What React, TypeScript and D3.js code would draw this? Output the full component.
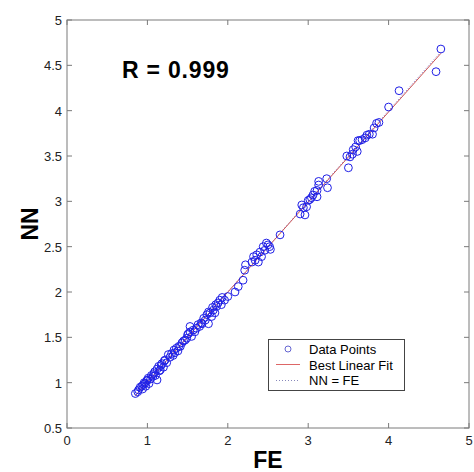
import React from "react";
import * as d3 from "d3";

const feValues = [
  0.85, 0.88, 0.89, 0.91, 0.93, 0.94, 0.95, 0.96, 0.97, 0.98, 0.99, 1.0, 1.01, 1.02, 1.04, 1.05, 1.07, 1.08, 1.09, 1.1,
  1.12, 1.12, 1.14, 1.15, 1.16, 1.17, 1.18, 1.2, 1.21, 1.22, 1.24, 1.26, 1.28, 1.3, 1.32, 1.33, 1.34, 1.36, 1.38, 1.39,
  1.41, 1.43, 1.45, 1.47, 1.49, 1.5, 1.51, 1.53, 1.53, 1.55, 1.57, 1.59, 1.61, 1.63, 1.65, 1.67, 1.68, 1.7, 1.72, 1.74,
  1.76, 1.76, 1.78, 1.8, 1.81, 1.82, 1.84, 1.85, 1.86, 1.88, 1.9, 1.92, 1.93, 1.96, 2.0, 2.09, 2.13, 2.19, 2.21, 2.22,
  2.3, 2.32, 2.34, 2.36, 2.38, 2.4, 2.42, 2.44, 2.46, 2.48, 2.5, 2.52, 2.53, 2.65, 2.9, 2.92, 2.94, 2.96, 2.98, 3.0,
  3.02, 3.04, 3.06, 3.08, 3.11, 3.11, 3.13, 3.13, 3.23, 3.24, 3.48, 3.5, 3.52, 3.55, 3.56, 3.59, 3.61, 3.62, 3.64, 3.67,
  3.71, 3.73, 3.76, 3.8, 3.82, 3.85, 3.88, 4.0, 4.13, 4.59, 4.65,
];
const nnValues = [
  0.88, 0.9, 0.92, 0.95, 0.96, 0.93, 0.98, 1.0, 0.99, 0.96, 1.02, 1.03, 1.05, 0.99, 1.04, 1.08, 1.07, 1.1, 1.12, 1.08,
  1.03, 1.15, 1.18, 1.13, 1.14, 1.19, 1.21, 1.17, 1.24, 1.25, 1.22, 1.31, 1.28, 1.32, 1.3, 1.36, 1.33, 1.38, 1.35, 1.4,
  1.4, 1.44, 1.46, 1.47, 1.49, 1.53, 1.54, 1.56, 1.62, 1.51, 1.58, 1.56, 1.6, 1.64, 1.62, 1.66, 1.65, 1.71, 1.69, 1.75,
  1.65, 1.78, 1.77, 1.73, 1.83, 1.8, 1.77, 1.86, 1.84, 1.88, 1.91, 1.86, 1.94, 1.91, 1.95, 2.0, 2.06, 2.13, 2.24, 2.3,
  2.33, 2.39, 2.35, 2.41, 2.33, 2.44, 2.39, 2.5, 2.46, 2.54, 2.52, 2.5, 2.47, 2.63, 2.86, 2.96, 2.93, 2.85, 2.94, 3.01,
  3.02, 3.04, 3.07, 3.11, 3.05, 3.12, 3.18, 3.22, 3.25, 3.15, 3.5, 3.37, 3.49, 3.52, 3.57, 3.6, 3.55, 3.67, 3.67, 3.68,
  3.7, 3.73, 3.74, 3.74, 3.81, 3.86, 3.87, 4.04, 4.22, 4.43, 4.68,
];
const xTicks = [0, 1, 2, 3, 4, 5];
const yTicks = [0.5, 1, 1.5, 2, 2.5, 3, 3.5, 4, 4.5, 5];
const rText = "R = 0.999";
const legendLabels = ["Data Points", "Best Linear Fit", "NN = FE"];

export default function App() {
  const left = 67, right = 469, top = 20, bottom = 428;
  const x = d3.scaleLinear().domain([0, 5]).range([left, right]);
  const y = d3.scaleLinear().domain([0.5, 5]).range([bottom, top]);
  const pts = feValues.map((v, i) => [v, nnValues[i]] as [number, number]);
  const mx = d3.mean(feValues)!, my = d3.mean(nnValues)!;
  let sxy = 0, sxx = 0;
  pts.forEach(([a, b]) => { sxy += (a - mx) * (b - my); sxx += (a - mx) * (a - mx); });
  const slope = sxy / sxx, icpt = my - slope * mx;
  const [xmin, xmax] = d3.extent(feValues) as [number, number];
  const line = d3.line<[number, number]>().x(d => x(d[0])).y(d => y(d[1]));
  const fitPts: [number, number][] = [[xmin, slope * xmin + icpt], [xmax, slope * xmax + icpt]];
  const idPts: [number, number][] = [[xmin, xmin], [xmax, xmax]];
  const axisColor = "#7a7a7a";
  const font = "Liberation Sans, Arial, sans-serif";
  const tl = 5;
  return (
    <svg width={474} height={472} style={{ position: "absolute", left: 0, top: 0, background: "#fff" }}>
      <rect x={0} y={0} width={474} height={472} fill="#fff" />
      {xTicks.map(t => (
        <g key={"xt" + t}>
          <line x1={x(t)} x2={x(t)} y1={bottom} y2={bottom - tl} stroke={axisColor} />
          <line x1={x(t)} x2={x(t)} y1={top} y2={top + tl} stroke={axisColor} />
          <text x={x(t)} y={445} textAnchor="middle" fontSize={13} fontFamily={font} fill="#222">{t}</text>
        </g>
      ))}
      {yTicks.map(t => (
        <g key={"yt" + t}>
          <line x1={left} x2={left + tl} y1={y(t)} y2={y(t)} stroke={axisColor} />
          <line x1={right} x2={right - tl} y1={y(t)} y2={y(t)} stroke={axisColor} />
          <text x={62} y={y(t) + 5} textAnchor="end" fontSize={13} fontFamily={font} fill="#222">{t}</text>
        </g>
      ))}
      <rect x={left} y={top} width={right - left} height={bottom - top} fill="none" stroke={axisColor} strokeWidth={1} />
      <path d={line(idPts)!} stroke="#7777cc" strokeWidth={1} strokeDasharray="1,2" fill="none" />
      <path d={line(fitPts)!} stroke="#cc5555" strokeWidth={1} fill="none" />
      {pts.map((p, i) => (
        <circle key={i} cx={x(p[0])} cy={y(p[1])} r={3.9} fill="none" stroke="#1f1fe6" strokeWidth={1} />
      ))}
      <text x={122} y={78} fontSize={23} fontWeight="bold" fontFamily={font} fill="#000" letterSpacing={0.8}>{rText}</text>
      <text x={268} y={468} textAnchor="middle" fontSize={23} fontWeight="bold" fontFamily={font} fill="#000">FE</text>
      <text transform="translate(38,224) rotate(-90)" textAnchor="middle" fontSize={23} fontWeight="bold" fontFamily={font} fill="#000">NN</text>
      <rect x={268.5} y={339.5} width={136} height={51} fill="#fff" stroke="#444" strokeWidth={1} />
      <circle cx={288} cy={349} r={3} fill="none" stroke="#5555cc" strokeWidth={0.9} />
      <line x1={276} x2={300} y1={364.5} y2={364.5} stroke="#dd6666" strokeWidth={1} />
      <line x1={276} x2={300} y1={380.5} y2={380.5} stroke="#8888bb" strokeWidth={1} strokeDasharray="1,2" />
      {legendLabels.map((l, i) => (
        <text key={l} x={309} y={354 + i * 15.5} fontSize={13} fontFamily={font} fill="#000">{l}</text>
      ))}
    </svg>
  );
}
